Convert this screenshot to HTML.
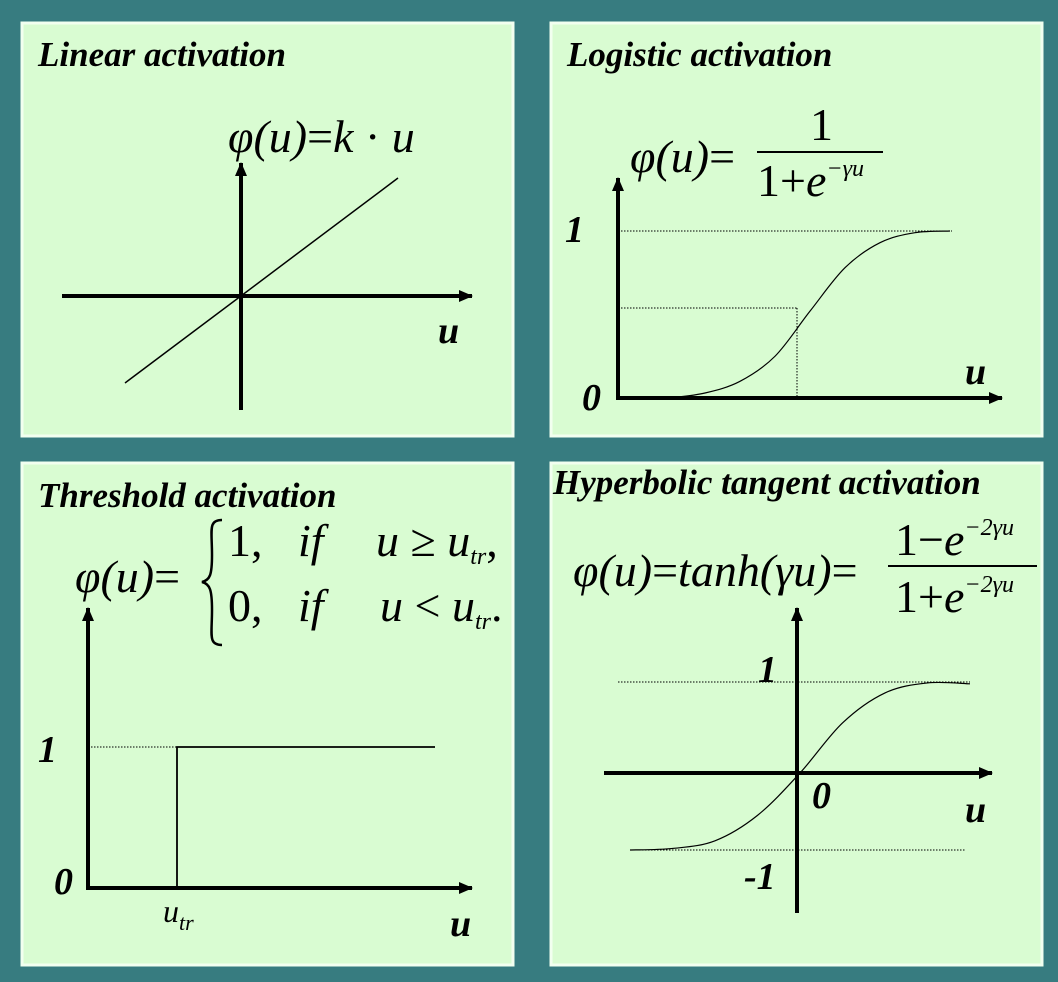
<!DOCTYPE html>
<html><head><meta charset="utf-8"><style>
html,body{margin:0;padding:0;background:#377C80;}
svg{display:block}
text{font-family:"Liberation Serif",serif;}
.t{font-weight:bold;font-style:italic;font-size:35px;}
.f{font-style:italic;font-size:46px;}
.n{font-size:46px;}
.lb{font-weight:bold;font-style:italic;font-size:38px;}
</style></head><body>
<svg width="1058" height="982" viewBox="0 0 1058 982">
<defs>
<marker id="ar2" markerWidth="14" markerHeight="14" refX="13" refY="7" orient="auto" markerUnits="userSpaceOnUse">
<path d="M0,1 L14,7 L0,13 Z" fill="#000"/></marker>
</defs>
<rect x="0" y="0" width="1058" height="982" fill="#377C80"/>
<g fill="#D9FCD2" stroke="#F2FFF0" stroke-width="3">
<rect x="22" y="23" width="491" height="413"/>
<rect x="551" y="23" width="491" height="413"/>
<rect x="22" y="463" width="491" height="502"/>
<rect x="551" y="463" width="491" height="502"/>
</g>

<!-- Linear -->
<text class="t" x="38" y="66">Linear activation</text>
<text class="f" x="228" y="152">φ(u)<tspan font-style="normal">=</tspan>k<tspan font-style="normal"> · </tspan>u</text>
<line x1="62" y1="296" x2="472" y2="296" stroke="#000" stroke-width="4" marker-end="url(#ar2)"/>
<line x1="241" y1="410" x2="241" y2="163" stroke="#000" stroke-width="4" marker-end="url(#ar2)"/>
<line x1="125" y1="383" x2="398" y2="178" stroke="#000" stroke-width="1.5"/>
<text class="lb" x="438" y="343">u</text>

<!-- Logistic -->
<text class="t" x="567" y="66">Logistic  activation</text>
<text class="f" x="630" y="172">φ(u)<tspan font-style="normal">=</tspan></text>
<text class="n" x="810" y="140">1</text>
<line x1="757" y1="152" x2="883" y2="152" stroke="#000" stroke-width="2"/>
<text class="n" x="757" y="196">1+<tspan font-style="italic">e</tspan><tspan font-size="24" dy="-20" font-style="italic">−γu</tspan></text>
<line x1="618" y1="231" x2="952" y2="231" stroke="#000" stroke-width="1" stroke-dasharray="1.5,1.5"/>
<line x1="618" y1="308" x2="797" y2="308" stroke="#000" stroke-width="1" stroke-dasharray="1.5,1.5"/>
<line x1="797" y1="308" x2="797" y2="398" stroke="#000" stroke-width="1" stroke-dasharray="1.5,1.5"/>
<line x1="618" y1="400" x2="618" y2="178" stroke="#000" stroke-width="4" marker-end="url(#ar2)"/>
<line x1="616" y1="398" x2="1002" y2="398" stroke="#000" stroke-width="4" marker-end="url(#ar2)"/>
<path id="logc" fill="none" stroke="#000" stroke-width="1.2"/>
<text class="lb" x="565" y="242">1</text>
<text class="lb" x="582" y="410">0</text>
<text class="lb" x="965" y="384">u</text>

<!-- Threshold -->
<text class="t" x="38" y="507">Threshold activation</text>
<text class="f" x="75" y="592">φ(u)<tspan font-style="normal">=</tspan></text>
<path d="M222,520 C208,520 212,530 212,555 C212,575 210,580 202,582 C210,584 212,590 212,610 C212,635 208,645 222,645" fill="none" stroke="#000" stroke-width="2.5"/>
<text class="n" x="228" y="556">1,<tspan font-style="italic" x="298">if</tspan><tspan x="376" font-style="italic">u</tspan> ≥ <tspan font-style="italic">u</tspan><tspan font-size="24" dy="8" font-style="italic">tr</tspan><tspan dy="-8">,</tspan></text>
<text class="n" x="228" y="621">0,<tspan font-style="italic" x="298">if</tspan><tspan x="380" font-style="italic">u</tspan> &lt; <tspan font-style="italic">u</tspan><tspan font-size="24" dy="8" font-style="italic">tr</tspan><tspan dy="-8">.</tspan></text>
<line x1="88" y1="747" x2="177" y2="747" stroke="#000" stroke-width="1" stroke-dasharray="1.5,1.5"/>
<line x1="88" y1="890" x2="88" y2="608" stroke="#000" stroke-width="4" marker-end="url(#ar2)"/>
<line x1="86" y1="888" x2="472" y2="888" stroke="#000" stroke-width="4" marker-end="url(#ar2)"/>
<path d="M177,888 L177,747 L435,747" fill="none" stroke="#000" stroke-width="1.8"/>
<text class="lb" x="38" y="762">1</text>
<text class="lb" x="54" y="894">0</text>
<text x="163" y="922" font-size="32" font-style="italic">u<tspan font-size="22" dy="8">tr</tspan></text>
<text class="lb" x="450" y="936">u</text>

<!-- Tanh -->
<text class="t" x="553" y="494">Hyperbolic tangent activation</text>
<text class="f" x="573" y="586">φ(u)<tspan font-style="normal">=</tspan>tanh(γu)<tspan font-style="normal">=</tspan></text>
<text class="n" x="895" y="555">1−<tspan font-style="italic">e</tspan><tspan font-size="24" dy="-20" font-style="italic">−2γu</tspan></text>
<line x1="888" y1="566" x2="1037" y2="566" stroke="#000" stroke-width="2"/>
<text class="n" x="895" y="612">1+<tspan font-style="italic">e</tspan><tspan font-size="24" dy="-20" font-style="italic">−2γu</tspan></text>
<line x1="618" y1="682" x2="970" y2="682" stroke="#000" stroke-width="1" stroke-dasharray="1.5,1.5"/>
<line x1="630" y1="850" x2="965" y2="850" stroke="#000" stroke-width="1" stroke-dasharray="1.5,1.5"/>
<line x1="797" y1="913" x2="797" y2="608" stroke="#000" stroke-width="4" marker-end="url(#ar2)"/>
<line x1="604" y1="773" x2="992" y2="773" stroke="#000" stroke-width="4" marker-end="url(#ar2)"/>
<path id="tanhc" fill="none" stroke="#000" stroke-width="1.2"/>
<text class="lb" x="758" y="682">1</text>
<text class="lb" x="812" y="808">0</text>
<text class="lb" x="744" y="889">-1</text>
<text class="lb" x="965" y="822">u</text>
</svg>
<script>
const logU = [-4,-3,-2,-1,0,1,2,3,4];
const logPhi = [0,0.03,0.1,0.25,0.52,0.78,0.93,0.99,1.0];
const tanhU = [-4,-3,-2,-1,0,1,2,3,4];
const tanhPhi = [-1,-0.98,-0.88,-0.55,0,0.55,0.88,0.99,0.98];
function logX(u){return 670+(u+4)/8*280;}
function logY(v){return 398-v*167;}
function tX(u){return 630+(u+4)/8*340;}
function tY(v){return v>=0 ? 773-v*91 : 773-v*77;}
function smooth(pts){
  let d='M'+pts[0][0]+','+pts[0][1];
  for(let i=0;i<pts.length-1;i++){
    const p0=pts[i-1]||pts[i],p1=pts[i],p2=pts[i+1],p3=pts[i+2]||p2;
    const c1=[p1[0]+(p2[0]-p0[0])/6,p1[1]+(p2[1]-p0[1])/6];
    const c2=[p2[0]-(p3[0]-p1[0])/6,p2[1]-(p3[1]-p1[1])/6];
    d+=' C'+c1+' '+c2+' '+p2;
  }
  return d;
}
document.getElementById('logc').setAttribute('d',smooth(logU.map((u,i)=>[logX(u),logY(logPhi[i])])));
document.getElementById('tanhc').setAttribute('d',smooth(tanhU.map((u,i)=>[tX(u),tY(tanhPhi[i])])));
</script>
</body></html>
